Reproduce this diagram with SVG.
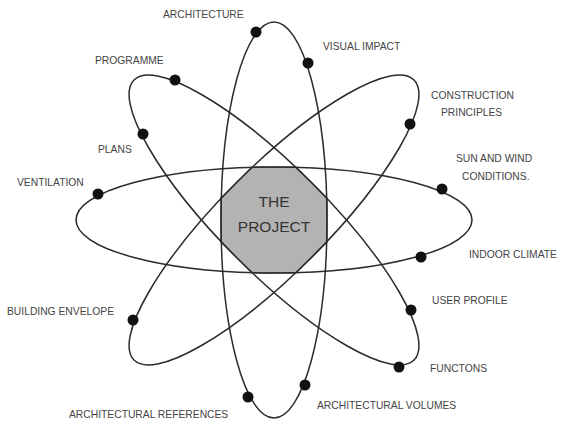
<svg xmlns="http://www.w3.org/2000/svg" width="561" height="422" viewBox="0 0 561 422">
<style>
.orbit{fill:none;stroke:#2b2b2b;stroke-width:1.5}
.dot{fill:#111}
.lbl{font-family:"Liberation Sans",Arial,sans-serif;font-size:10.3px;fill:#444}
.core{fill:#b3b3b3;stroke:#2b2b2b;stroke-width:1.2}
.coretxt{font-family:"Liberation Sans",Arial,sans-serif;font-size:15.5px;fill:#333;text-anchor:middle}
</style>
<rect width="561" height="422" fill="#fff"/>
<g id="core">
<polygon class="core" points="252,167 296,167 327,198 327,242 296,273 252,273 221,242 221,198"/>
<text class="coretxt" x="274" y="207">THE</text>
<text class="coretxt" x="274" y="232">PROJECT</text>
</g>
<g id="connectors">
<ellipse class="orbit" cx="274" cy="220" rx="198" ry="53"/>
<ellipse class="orbit" cx="274" cy="220" rx="198" ry="53" transform="rotate(90 274 220)"/>
<ellipse class="orbit" cx="274" cy="220" rx="198" ry="53" transform="rotate(45 274 220)"/>
<ellipse class="orbit" cx="274" cy="220" rx="198" ry="53" transform="rotate(-45 274 220)"/>
</g>
<g id="architecture"><circle class="dot" cx="256" cy="32" r="5.5"/><text class="lbl" x="163" y="18">ARCHITECTURE</text></g>
<g id="visual-impact"><circle class="dot" cx="308" cy="63" r="5.5"/><text class="lbl" x="323" y="50">VISUAL IMPACT</text></g>
<g id="programme"><circle class="dot" cx="175" cy="80" r="5.5"/><text class="lbl" x="95" y="64">PROGRAMME</text></g>
<g id="plans"><circle class="dot" cx="143" cy="134" r="5.5"/><text class="lbl" x="98" y="153">PLANS</text></g>
<g id="ventilation"><circle class="dot" cx="98" cy="194" r="5.5"/><text class="lbl" x="17" y="186">VENTILATION</text></g>
<g id="construction-principles"><circle class="dot" cx="410" cy="124" r="5.5"/><text class="lbl" x="431" y="99">CONSTRUCTION</text><text class="lbl" x="441" y="116">PRINCIPLES</text></g>
<g id="sun-wind"><circle class="dot" cx="442" cy="189" r="5.5"/><text class="lbl" x="456" y="162">SUN AND WIND</text><text class="lbl" x="462" y="180">CONDITIONS.</text></g>
<g id="indoor-climate"><circle class="dot" cx="421" cy="257" r="5.5"/><text class="lbl" x="469" y="258">INDOOR CLIMATE</text></g>
<g id="user-profile"><circle class="dot" cx="411" cy="310" r="5.5"/><text class="lbl" x="432" y="304">USER PROFILE</text></g>
<g id="functions"><circle class="dot" cx="399" cy="367" r="5.5"/><text class="lbl" x="430" y="372">FUNCTONS</text></g>
<g id="building-envelope"><circle class="dot" cx="133" cy="320" r="5.5"/><text class="lbl" x="7" y="315">BUILDING ENVELOPE</text></g>
<g id="arch-references"><circle class="dot" cx="248" cy="397" r="5.5"/><text class="lbl" x="69" y="418">ARCHITECTURAL REFERENCES</text></g>
<g id="arch-volumes"><circle class="dot" cx="305" cy="385" r="5.5"/><text class="lbl" x="317" y="409">ARCHITECTURAL VOLUMES</text></g>
</svg>
